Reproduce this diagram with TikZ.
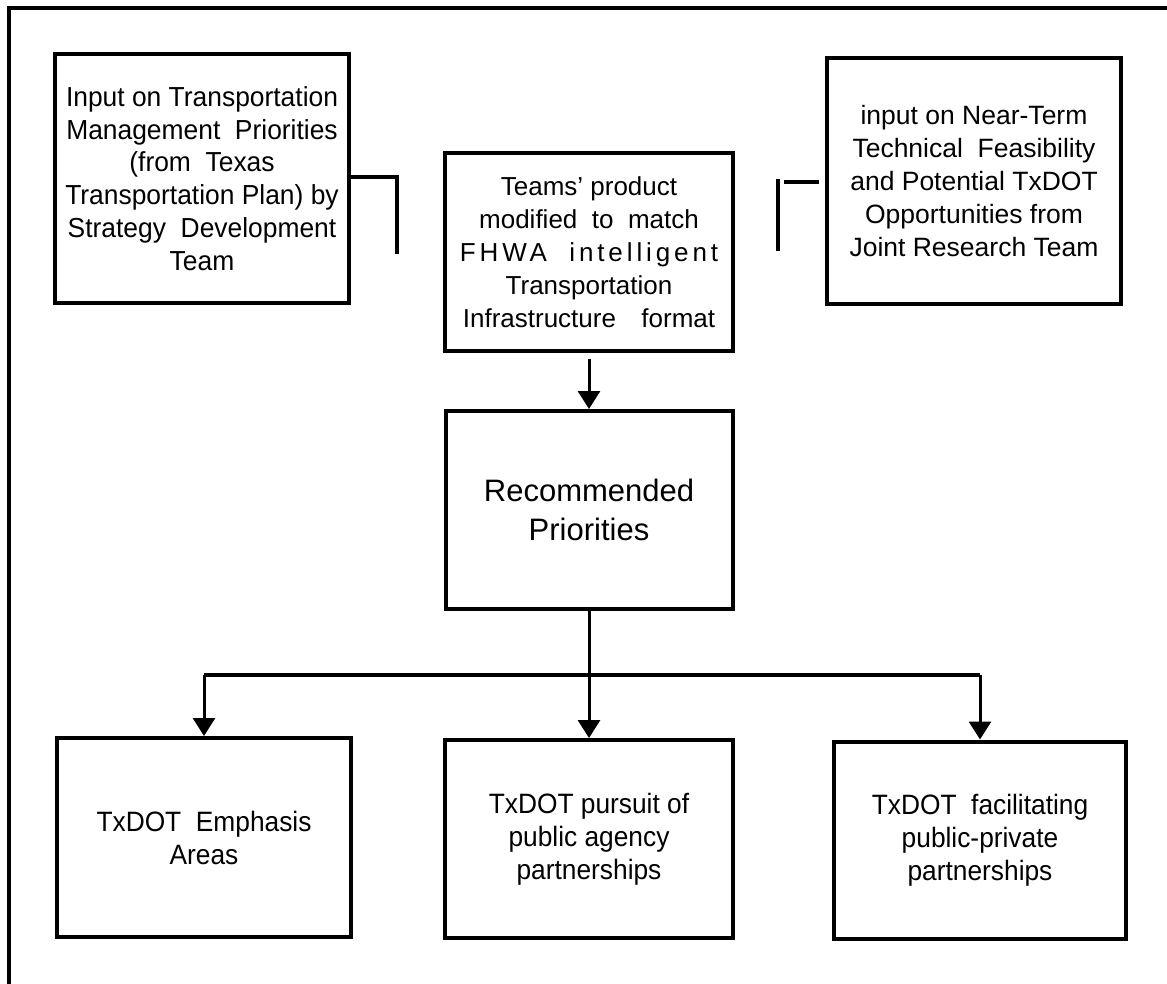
\documentclass[tikz,border=0pt]{standalone}
\usepackage{fontspec}
\setmainfont{Liberation Sans}
\newfontfamily\condA{Liberation Sans}[FakeStretch=0.96]
\newfontfamily\condB{Liberation Sans}[FakeStretch=0.94]
\usetikzlibrary{arrows.meta}
\begin{document}
\begin{tikzpicture}[x=1pt,y=-1pt,
  box/.style={draw, line width=4pt, align=center, inner sep=0pt,
    font=\fontsize{26.5}{33}\selectfont},
  lowbox/.style={box, font=\condB\fontsize{28}{33}\selectfont},
  conn/.style={line width=3.5pt},
  arr/.style={line width=3pt, -{Triangle[width=22pt,length=18pt]}},
  frame/.style={line width=4pt}]
\useasboundingbox (0,0) rectangle (1167,984);
\draw[frame] (9,984) -- (9,8) -- (1167,8);

\node[box, minimum width=294pt, minimum height=249pt,
  font=\condA\fontsize{27.5}{32.7}\selectfont] (inL) at (202,178.5)
  {Input on Transportation\\Management\ \ Priorities\\(from\ \ Texas\\Transportation Plan) by\\Strategy\ \ Development\\Team};
\node[box, minimum width=288pt, minimum height=198pt,
  font=\fontsize{26}{33}\selectfont] (team) at (589,252)
  {Teams’ product\\modified\ \ to\ \ match\\{\addfontfeature{LetterSpace=15}FHWA\ \ intelligent}\\Transportation\\Infrastructure\hspace{0.7em}\ format};
\node[box, minimum width=294pt, minimum height=246pt] (inR) at (974,181)
  {input on Near-Term\\Technical\ \ Feasibility\\and Potential TxDOT\\Opportunities from\\Joint Research Team};
\node[box, minimum width=287pt, minimum height=198pt,
  font=\fontsize{31}{39}\selectfont] (rec) at (589,510)
  {Recommended\\Priorities};
\node[lowbox, minimum width=294pt, minimum height=199pt] (b1) at (204,837.5)
  {TxDOT\ \ Emphasis\\Areas};
\node[lowbox, minimum width=288pt, minimum height=198pt] (b2) at (589,839)
  {TxDOT pursuit of\\public agency\\partnerships};
\node[lowbox, minimum width=292pt, minimum height=197pt] (b3) at (980,840)
  {TxDOT\ \ facilitating\\public-private\\partnerships};

% left input connector
\coordinate (lcorner) at (397,177);
\coordinate (lend) at (397,254);
\draw[conn] (inL.east |- lcorner) -- (lcorner) -- (lend);

% right input connector
\coordinate (rtop) at (778,179);
\coordinate (rbot) at (778,251);
\coordinate (rh1) at (784,182);
\coordinate (rh2) at (819,182);
\draw[conn] (rtop) -- (rbot);
\draw[conn] (rh1) -- (rh2);

% main flow
\draw[arr] ([yshift=-6pt]team.south) -- (rec.north);
\coordinate (junc) at (589,675);
\draw[conn] (junc -| b1.north) -- (junc -| b3.north);
\draw[arr] (rec.south) -- (b2.north);
\draw[arr] (junc -| b1.north) -- (b1.north);
\draw[arr] (junc -| b3.north) -- (b3.north);
\end{tikzpicture}
\end{document}
